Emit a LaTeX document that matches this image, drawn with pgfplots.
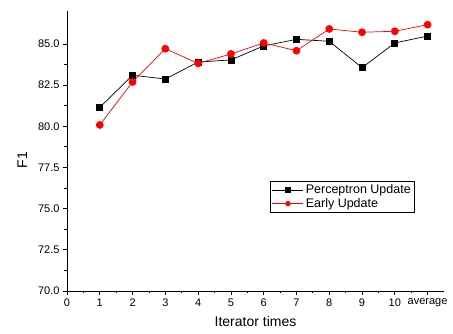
\documentclass[border=0pt]{standalone}
\usepackage{pgfplots}
\pgfplotsset{compat=1.18}
\usepackage{fontspec}
\setmainfont{Liberation Sans}
\begin{document}
\begin{tikzpicture}
\useasboundingbox (-67pt,-43pt) rectangle (386pt,291pt);
\begin{axis}[
  at={(0,0)}, anchor=south west,
  scale only axis, width=377pt, height=280pt,
  xmin=0, xmax=11.5, ymin=70, ymax=87,
  axis lines=left, axis line style={-, line width=0.9pt},
  xtick={0,1,...,11},
  xticklabels={0,1,2,3,4,5,6,7,8,9,10,average},
  ytick={70,72.5,...,85},
  minor x tick num=1, minor y tick num=1,
  tick align=outside, tick style={black, line width=0.8pt},
  major tick length=4pt, minor tick length=2.5pt,
  yticklabel style={/pgf/number format/.cd, fixed, fixed zerofill, precision=1},
  /pgf/number format/assume math mode=true,
  tick label style={font=\fontsize{11}{12}\selectfont},
  label style={font=\fontsize{14}{15}\selectfont},
  xlabel={Iterator times}, ylabel={F1},
  xlabel style={yshift=-3pt},
  ylabel style={yshift=4pt, xshift=-9pt},
  legend style={at={(0.538,0.393)}, anchor=north west, draw=black, line width=0.6pt,
    font=\fontsize{12.5}{13}\selectfont, inner xsep=2pt, inner ysep=2pt, row sep=0pt,
    nodes={inner xsep=2pt, inner ysep=1.5pt}},
  legend image code/.code={\draw[mark repeat=2,mark phase=2,#1, mark size=2.3pt] plot coordinates {(0pt,0pt)(15.5pt,0pt)(31pt,0pt)};},
  legend cell align=left,
  clip=false,
]
\addplot[black, line width=0.7pt, mark=square*, mark size=3pt, mark options={solid}]
coordinates {(1,81.15) (2,83.10) (3,82.87) (4,83.90) (5,84.03) (6,84.88) (7,85.28) (8,85.16) (9,83.56) (10,85.06) (11,85.48)};
\addlegendentry{Perceptron Update}
\addplot[red, line width=0.7pt, mark=*, mark size=3.5pt, mark options={solid, fill=red}]
coordinates {(1,80.08) (2,82.69) (3,84.71) (4,83.82) (5,84.39) (6,85.06) (7,84.59) (8,85.91) (9,85.71) (10,85.77) (11,86.17)};
\addlegendentry{Early Update}
\end{axis}
\end{tikzpicture}
\end{document}
